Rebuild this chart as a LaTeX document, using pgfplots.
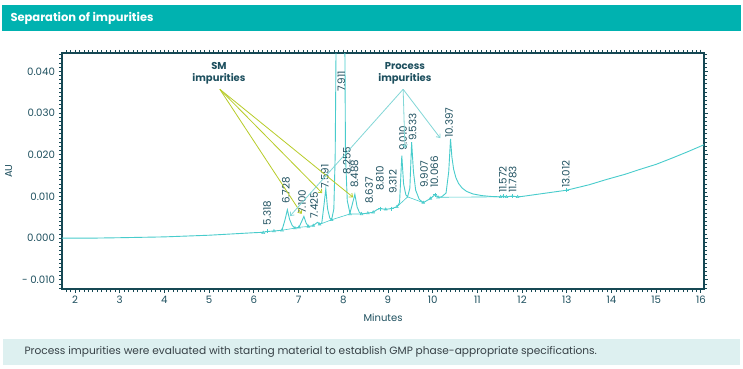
\documentclass[border=0pt]{standalone}
\usepackage{pgfplots}
\pgfplotsset{compat=1.18}
\usepackage{fontspec}
\setmainfont{Poppins}
\usetikzlibrary{arrows.meta}
\definecolor{sig}{RGB}{72,204,204}
\definecolor{frame}{RGB}{22,72,84}
\definecolor{lab}{RGB}{30,80,95}
\definecolor{titlebar}{RGB}{0,178,176}
\definecolor{footband}{RGB}{221,240,240}
\definecolor{foottext}{RGB}{55,65,70}
\definecolor{smgreen}{RGB}{184,204,40}
\definecolor{procteal}{RGB}{130,215,215}
\begin{document}
\begin{tikzpicture}
\useasboundingbox (0pt,0pt) rectangle (743pt,368pt);
\fill[white] (0pt,0pt) rectangle (743pt,368pt);
% title bar
\fill[titlebar] (2pt,337pt) rectangle (741pt,363pt);
\node[anchor=west, text=white, font=\fontsize{11.5}{13}\selectfont\bfseries] at (7pt,350pt) {Separation of impurities};
% footer band
\fill[footband] (3pt,3pt) rectangle (740pt,29pt);
\node[anchor=west, text=foottext, font=\fontsize{10.6}{12}\selectfont] at (21pt,16pt) {Process impurities were evaluated with starting material to establish GMP phase-appropriate specifications.};
\begin{axis}[
  at={(62pt,79pt)}, anchor=south west,
  scale only axis, width=642pt, height=236pt,
  xmin=1.709, xmax=16.07, ymin=-0.0122, ymax=0.0444,
  clip=true,
  axis line style={frame, line width=1.6pt},
  tick align=outside,
  tick style={frame, line width=0.8pt},
  major tick length=3.5pt, minor tick length=3pt,
  xtick={2,3,...,16},
  minor xtick={1.8,1.9,...,16.05},
  ytick={-0.01,0,0.01,0.02,0.03,0.04},
  yticklabels={- 0.010,0.000,0.010,0.020,0.030,0.040},
  scaled y ticks=false,
  minor ytick={-0.012,-0.011,...,0.0441},
  xticklabel style={text=lab, font=\fontsize{10.2}{12}\selectfont},
  yticklabel style={text=lab, font=\fontsize{10.2}{12}\selectfont},
  /pgf/number format/assume math mode=true,
  xlabel={Minutes}, ylabel={AU},
  xlabel style={text=lab, font=\fontsize{10}{12}\selectfont, yshift=-3pt},
  ylabel style={text=lab, font=\fontsize{10}{12}\selectfont, yshift=3pt},
  unbounded coords=jump,
]
% chromatogram signal
\addplot[sig, line width=0.9pt] coordinates {
(1.709,0.0000) (2.5,0.00002) (3.0,0.0001) (3.5,0.0002) (4.0,0.0003) (4.5,0.0005) (5.0,0.0007) (5.5,0.0010) (6.0,0.0013) (6.21,0.0014) (6.3,0.0016) (6.45,0.0017) (6.63,0.0019)
(6.70,0.0045) (6.75,0.0068) (6.80,0.0045) (6.86,0.0030) (6.92,0.0024) (7.01,0.0026) (7.07,0.0040) (7.12,0.0052) (7.17,0.0036) (7.22,0.0028) (7.33,0.0030) (7.40,0.0036) (7.43,0.0038) (7.47,0.0033) (7.52,0.0036) (7.57,0.0080) (7.61,0.0118) (7.65,0.0070) (7.70,0.0048) (7.74,0.0044)
(7.79,0.0070) (7.82,0.0200) (7.85,0.0600) (8.03,0.0600) (8.05,0.0200) (8.09,0.0090) (8.15,0.0060)
(8.20,0.0080) (8.26,0.0105) (8.31,0.0075) (8.36,0.0062) (8.41,0.0058) (8.55,0.0060) (8.67,0.0062) (8.75,0.0068) (8.82,0.0071) (8.95,0.0069) (9.08,0.0071) (9.20,0.0075)
(9.26,0.0085) (9.31,0.0198) (9.35,0.0130) (9.40,0.0104) (9.44,0.0099) (9.49,0.0120) (9.53,0.0230) (9.57,0.0160) (9.62,0.0115) (9.70,0.0093) (9.79,0.0085) (9.87,0.0090) (9.95,0.0095) (10.05,0.0104) (10.12,0.0098) (10.20,0.0099)
(10.30,0.0108) (10.36,0.0160) (10.40,0.0238) (10.43,0.0195) (10.47,0.0165) (10.52,0.0145) (10.58,0.0131) (10.66,0.0120) (10.76,0.0112) (10.90,0.0106) (11.1,0.0102) (11.3,0.0100) (11.52,0.0099) (11.57,0.0101) (11.65,0.0099) (11.78,0.0101) (11.90,0.0099) (12.0,0.0100)
(12.4,0.0106) (13.0,0.0115) (13.5,0.0128) (13.9,0.0141) (14.3,0.0153) (14.64,0.0165) (15.0,0.0177) (15.38,0.0193) (15.7,0.0207) (16.07,0.0224)
};
% integration baselines
\addplot[sig, line width=0.6pt] coordinates {
(6.63,0.0019) (6.92,0.0024) (nan,nan)
(7.01,0.0026) (7.22,0.0028) (nan,nan)
(7.47,0.0033) (7.74,0.0044) (8.15,0.0058) (8.41,0.0058) (nan,nan)
(9.20,0.0075) (9.44,0.0099) (9.79,0.0085) (nan,nan)
(10.12,0.0098) (11.52,0.0099)
};
% valley markers
\addplot[sig, only marks, mark=triangle, mark size=1.6pt, mark options={line width=0.5pt}] coordinates {
(6.21,0.0013) (6.45,0.0017) (6.63,0.0019) (6.92,0.0024) (7.01,0.0026) (7.22,0.0028) (7.33,0.0030) (7.47,0.0033) (7.74,0.0044) (8.15,0.0058) (8.41,0.0058) (8.55,0.0060) (8.67,0.0062) (8.95,0.0069) (9.20,0.0075) (9.79,0.0085) (9.95,0.0095) (10.12,0.0098) (11.52,0.0099) (11.65,0.0099) (11.90,0.0099)
};
% peak cross markers
\addplot[sig, only marks, mark=+, mark size=2pt, mark options={line width=0.6pt}] coordinates {
(6.3,0.0016) (8.82,0.0071) (9.08,0.0071) (10.05,0.0104) (11.57,0.0101) (11.78,0.0101) (13.0,0.0115)
};
% peak labels
\begin{scope}[every node/.style={rotate=90, anchor=west, inner sep=0pt, text=lab, font=\fontsize{10.3}{11}\selectfont}]
\node at (axis cs:6.30,0.0030) {5.318};
\node at (axis cs:6.72,0.0082) {6.728};
\node at (axis cs:7.08,0.0058) {7.100};
\node at (axis cs:7.35,0.0046) {7.425};
\node at (axis cs:7.59,0.0118) {7.591};
\node at (axis cs:7.96,0.0350) {7.911};
\node at (axis cs:8.08,0.0153) {8.255};
\node at (axis cs:8.25,0.0120) {8.488};
\node at (axis cs:8.58,0.0082) {8.637};
\node at (axis cs:8.82,0.0113) {8.810};
\node at (axis cs:9.11,0.0106) {9.312};
\node at (axis cs:9.34,0.0209) {9.010};
\node at (axis cs:9.55,0.0233) {9.533};
\node at (axis cs:9.81,0.0120) {9.907};
\node at (axis cs:10.04,0.0120) {10.066};
\node at (axis cs:10.37,0.0240) {10.397};
\node at (axis cs:11.57,0.0108) {11.572};
\node at (axis cs:11.79,0.0108) {11.783};
\node at (axis cs:12.98,0.0120) {13.012};
\end{scope}
% annotations
\node[align=center, text=lab, font=\fontsize{10}{12}\selectfont\bfseries] at (axis cs:5.22,0.0396) {SM\\impurities};
\node[align=center, text=lab, font=\fontsize{10}{12}\selectfont\bfseries] at (axis cs:9.38,0.0396) {Process\\impurities};
\begin{scope}[smgreen, line width=0.8pt, -{Straight Barb[length=3pt,width=5pt]}]
\draw (axis cs:5.24,0.0357) -- (axis cs:7.07,0.0058);
\draw (axis cs:5.24,0.0357) -- (axis cs:7.53,0.0108);
\draw (axis cs:5.24,0.0357) -- (axis cs:8.22,0.0098);
\end{scope}
\begin{scope}[procteal, line width=0.8pt, -{Straight Barb[length=3pt,width=5pt]}]
\draw (axis cs:9.34,0.0357) -- (axis cs:6.81,0.0053);
\draw (axis cs:9.34,0.0357) -- (axis cs:9.38,0.0216);
\draw (axis cs:9.34,0.0357) -- (axis cs:10.17,0.0240);
\end{scope}
\end{axis}
\end{tikzpicture}
\end{document}
